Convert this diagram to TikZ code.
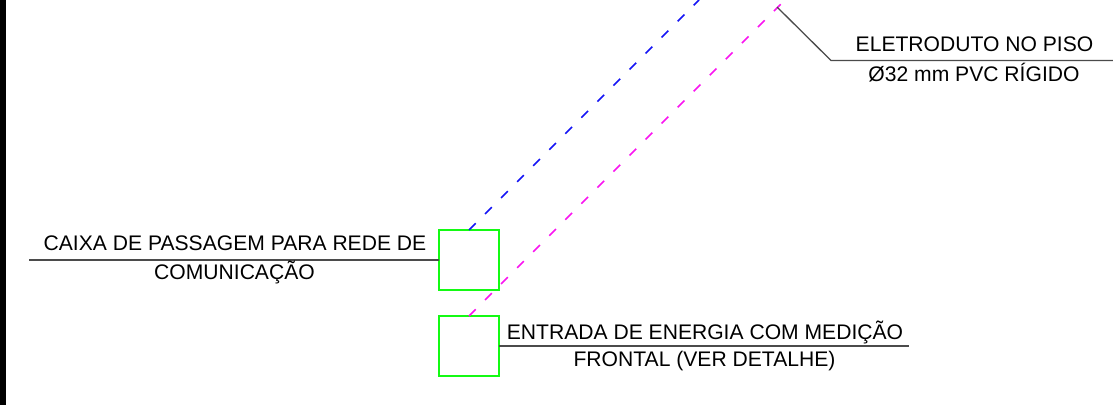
\documentclass[tikz,border=0pt]{standalone}
\usepackage{fontspec}
\setmainfont{Liberation Sans}
\definecolor{boxgreen}{RGB}{20,250,20}
\definecolor{leadergray}{RGB}{75,75,75}
\definecolor{pipeblue}{RGB}{20,20,245}
\definecolor{pipemag}{RGB}{250,20,240}
\tikzset{
  x=1pt,y=-1pt,
  boxnode/.style={draw=boxgreen,line width=1.7pt,minimum width=60pt,minimum height=60pt,inner sep=0pt,outer sep=0pt,fill=none},
  leader/.style={draw=leadergray,line width=1.3pt},
  pipe/.style={line width=1.7pt,dash pattern=on 9.5pt off 13.2pt},
  lbl/.style={font=\fontsize{21.1}{21.1}\selectfont,text=black,inner sep=0pt,anchor=base}
}
\begin{document}
\begin{tikzpicture}
\useasboundingbox (0,0) rectangle (1113,405);
\fill[black] (0,0) rectangle (6,405);
\node[boxnode] (caixa) at (469,260) {};
\node[boxnode] (entrada) at (469,346) {};
\coordinate (blueend) at (699,0);
\coordinate (magend) at (781,4);
\coordinate (tap) at (777,7);
\coordinate (elbow) at (831,60.5);
\coordinate (rightend) at (1113,60.5);
\coordinate (leftend) at (29,260);
\coordinate (entend) at (909,346);
\draw[pipe,pipeblue] (caixa.north) -- (blueend);
\draw[pipe,pipemag] (entrada.north) -- (magend);
\draw[leader] (tap) -- (elbow) -- (rightend);
\draw[leader] (caixa.west) -- (leftend);
\draw[leader] (entrada.east) -- (entend);
\node[lbl] (t1) at (235,250.7) {CAIXA DE PASSAGEM PARA REDE DE};
\node[lbl] (t2) at (234.5,279) {COMUNICAÇÃO};
\node[lbl] (t3) at (705,339.7) {ENTRADA DE ENERGIA COM MEDIÇÃO};
\node[lbl] (t4) at (704.5,366) {FRONTAL (VER DETALHE)};
\node[lbl] (t5) at (974.5,51.5) {ELETRODUTO NO PISO};
\node[lbl] (t6) at (974,81) {Ø32 mm PVC RÍGIDO};
\end{tikzpicture}
\end{document}
